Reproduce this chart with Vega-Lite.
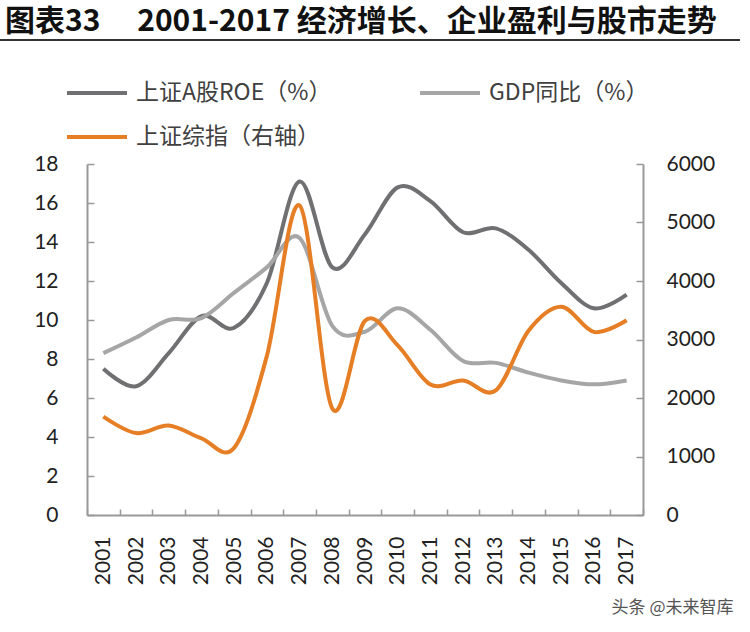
{
  "$schema": "https://vega.github.io/schema/vega-lite/v6.json",
  "width": 556,
  "height": 351,
  "autosize": {"type": "none"},
  "padding": {"left": 87, "top": 164, "right": 107, "bottom": 117},
  "background": "white",
  "config": {"view": {"stroke": null}, "font": "Lato"},
  "title": {
    "text": "图表33\u3000\u00a02001-2017 经济增长、企业盈利与股市走势",
    "anchor": "start",
    "frame": "group",
    "font": "Noto Sans CJK SC",
    "fontSize": 30,
    "fontWeight": "bold",
    "color": "#111111",
    "dx": -82,
    "offset": 2
  },
  "data": {
    "values": [
      {"year": "2001", "series": "上证A股ROE（%）", "value": 7.5},
      {"year": "2002", "series": "上证A股ROE（%）", "value": 6.6},
      {"year": "2003", "series": "上证A股ROE（%）", "value": 8.3},
      {"year": "2004", "series": "上证A股ROE（%）", "value": 10.2},
      {"year": "2005", "series": "上证A股ROE（%）", "value": 9.6},
      {"year": "2006", "series": "上证A股ROE（%）", "value": 11.9},
      {"year": "2007", "series": "上证A股ROE（%）", "value": 17.1},
      {"year": "2008", "series": "上证A股ROE（%）", "value": 12.7},
      {"year": "2009", "series": "上证A股ROE（%）", "value": 14.4},
      {"year": "2010", "series": "上证A股ROE（%）", "value": 16.8},
      {"year": "2011", "series": "上证A股ROE（%）", "value": 16.1},
      {"year": "2012", "series": "上证A股ROE（%）", "value": 14.5},
      {"year": "2013", "series": "上证A股ROE（%）", "value": 14.7},
      {"year": "2014", "series": "上证A股ROE（%）", "value": 13.6},
      {"year": "2015", "series": "上证A股ROE（%）", "value": 11.9},
      {"year": "2016", "series": "上证A股ROE（%）", "value": 10.6},
      {"year": "2017", "series": "上证A股ROE（%）", "value": 11.3},
      {"year": "2001", "series": "GDP同比（%）", "value": 8.3},
      {"year": "2002", "series": "GDP同比（%）", "value": 9.1},
      {"year": "2003", "series": "GDP同比（%）", "value": 10.0},
      {"year": "2004", "series": "GDP同比（%）", "value": 10.1},
      {"year": "2005", "series": "GDP同比（%）", "value": 11.4},
      {"year": "2006", "series": "GDP同比（%）", "value": 12.7},
      {"year": "2007", "series": "GDP同比（%）", "value": 14.2},
      {"year": "2008", "series": "GDP同比（%）", "value": 9.7},
      {"year": "2009", "series": "GDP同比（%）", "value": 9.4},
      {"year": "2010", "series": "GDP同比（%）", "value": 10.6},
      {"year": "2011", "series": "GDP同比（%）", "value": 9.5},
      {"year": "2012", "series": "GDP同比（%）", "value": 7.9},
      {"year": "2013", "series": "GDP同比（%）", "value": 7.8},
      {"year": "2014", "series": "GDP同比（%）", "value": 7.3},
      {"year": "2015", "series": "GDP同比（%）", "value": 6.9},
      {"year": "2016", "series": "GDP同比（%）", "value": 6.7},
      {"year": "2017", "series": "GDP同比（%）", "value": 6.9},
      {"year": "2001", "series": "上证综指（右轴）", "value": 1680},
      {"year": "2002", "series": "上证综指（右轴）", "value": 1400},
      {"year": "2003", "series": "上证综指（右轴）", "value": 1530},
      {"year": "2004", "series": "上证综指（右轴）", "value": 1310},
      {"year": "2005", "series": "上证综指（右轴）", "value": 1150},
      {"year": "2006", "series": "上证综指（右轴）", "value": 2720},
      {"year": "2007", "series": "上证综指（右轴）", "value": 5290},
      {"year": "2008", "series": "上证综指（右轴）", "value": 1820},
      {"year": "2009", "series": "上证综指（右轴）", "value": 3320},
      {"year": "2010", "series": "上证综指（右轴）", "value": 2900},
      {"year": "2011", "series": "上证综指（右轴）", "value": 2230},
      {"year": "2012", "series": "上证综指（右轴）", "value": 2300},
      {"year": "2013", "series": "上证综指（右轴）", "value": 2130},
      {"year": "2014", "series": "上证综指（右轴）", "value": 3150},
      {"year": "2015", "series": "上证综指（右轴）", "value": 3560},
      {"year": "2016", "series": "上证综指（右轴）", "value": 3130},
      {"year": "2017", "series": "上证综指（右轴）", "value": 3330}
    ]
  },
  "encoding": {
    "x": {
      "field": "year",
      "type": "ordinal",
      "bandPosition": 0.5,
      "scale": {"type": "band", "paddingInner": 0, "paddingOuter": 0},
      "axis": {
        "title": "头条 @未来智库",
        "titleX": 646,
        "titleY": 92,
        "titleAlign": "right",
        "titleAnchor": null,
        "titleBaseline": "middle",
        "titleFont": "Noto Sans CJK SC",
        "titleFontSize": 17,
        "titleFontWeight": "normal",
        "titleColor": "#555555",
        "labelAngle": -90,
        "labelFont": "Lato",
        "labelFontSize": 21,
        "labelColor": "#222222",
        "labelPadding": 27,
        "tickBand": "extent",
        "tickSize": -6,
        "tickColor": "#999999",
        "tickWidth": 1.5,
        "domainColor": "#999999",
        "domainWidth": 2,
        "grid": false
      }
    }
  },
  "layer": [
    {
      "transform": [{"filter": "datum.series !== '上证综指（右轴）'"}],
      "mark": {"type": "line", "interpolate": "cardinal", "strokeWidth": 4},
      "encoding": {
        "color": {
          "field": "series",
          "type": "nominal",
          "scale": {
            "domain": ["上证A股ROE（%）", "GDP同比（%）", "上证综指（右轴）"],
            "range": ["#707072", "#a6a6a6", "#e57e25"]
          },
          "legend": {
            "orient": "none",
            "legendX": -22,
            "legendY": -103,
            "direction": "horizontal",
            "columns": 2,
            "title": null,
            "symbolType": "stroke",
            "symbolSize": 3600,
            "symbolStrokeWidth": 4,
            "labelFont": "Noto Sans CJK SC",
            "labelFontSize": 23,
            "labelColor": "#404040",
            "labelOffset": 7,
            "columnPadding": 80,
            "rowPadding": 0,
            "labelLimit": 400
          }
        },
        "y": {
          "field": "value",
          "type": "quantitative",
          "scale": {"domain": [0, 18], "nice": false},
          "axis": {
            "title": null,
            "values": [0, 2, 4, 6, 8, 10, 12, 14, 16, 18],
            "orient": "left",
            "labelFont": "Lato",
            "labelFontSize": 21,
            "labelColor": "#222222",
            "labelPadding": 36,
            "tickSize": -7,
            "tickColor": "#999999",
            "tickWidth": 1.5,
            "domainColor": "#999999",
            "domainWidth": 2,
            "grid": false
          }
        }
      }
    },
    {
      "transform": [{"filter": "datum.series === '上证综指（右轴）'"}],
      "mark": {"type": "line", "interpolate": "cardinal", "strokeWidth": 4},
      "encoding": {
        "color": {"field": "series", "type": "nominal"},
        "y": {
          "field": "value",
          "type": "quantitative",
          "scale": {"domain": [0, 6000], "nice": false},
          "axis": {
            "title": null,
            "values": [0, 1000, 2000, 3000, 4000, 5000, 6000],
            "format": "d",
            "orient": "right",
            "labelFont": "Lato",
            "labelFontSize": 21,
            "labelColor": "#222222",
            "labelPadding": 30,
            "tickSize": -7,
            "tickColor": "#999999",
            "tickWidth": 1.5,
            "domainColor": "#999999",
            "domainWidth": 2,
            "grid": false
          }
        }
      }
    },
    {
      "data": {"values": [{"k": 1}]},
      "mark": {"type": "rule", "color": "#333333", "strokeWidth": 2},
      "encoding": {
        "x": {"value": -87},
        "x2": {"value": 653},
        "y": {"value": -124},
        "color": {"value": "#333333"}
      }
    }
  ],
  "resolve": {"scale": {"y": "independent"}}
}
